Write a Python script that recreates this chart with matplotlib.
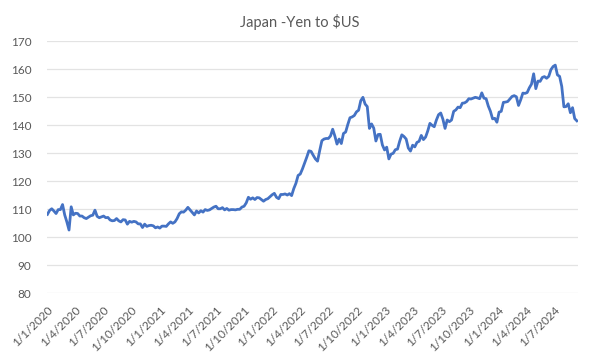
"""
Japan - Yen to $US (weekly close, Jan 2020 - Sep 2024), Excel-style line chart.
"""
import matplotlib

matplotlib.use("Agg")
import matplotlib.pyplot as plt
import pandas as pd

plt.rcParams["font.family"] = ["Lato", "DejaVu Sans"]

TITLE = "Japan -Yen to $US"

# weekly (Friday) closes
START = "2020-01-03"
END = "2024-09-13"

yen_2020 = [108.1, 109.5, 110.1, 109.3, 108.4,
            109.8, 109.8, 111.6, 107.9,
            105.4, 102.5, 110.8, 107.9,
            108.5, 108.4, 107.5, 107.5,
            106.9, 106.6, 107.1, 107.6, 107.8,
            109.6, 107.4, 106.9, 107.2,
            107.5, 106.9, 107.0, 106.1, 105.8,
            105.9, 106.6, 105.8, 105.4,
            106.2, 106.1, 104.6, 105.6,
            105.3, 105.6, 105.4, 104.7, 104.7,
            103.4, 104.6, 103.8, 104.1,
            104.2, 104.0, 103.3, 103.6]
yen_2021 = [103.2, 103.9, 103.9, 103.8, 104.7,
            105.4, 104.9, 105.4, 106.6,
            108.3, 109.0, 108.9, 109.6,
            110.6, 109.7, 108.8, 107.9, 109.3,
            108.6, 109.4, 108.9, 109.8,
            109.5, 109.7, 110.2, 110.7,
            111.0, 110.1, 110.1, 110.5, 109.7,
            110.2, 109.6, 109.8, 109.8,
            109.7, 109.9, 109.9, 110.7,
            111.0, 112.2, 114.2, 113.5, 114.0,
            113.4, 114.1, 114.0, 113.4,
            112.8, 113.4, 113.7, 114.4, 115.1]
yen_2022 = [115.6, 114.2, 113.7, 115.2,
            115.2, 115.4, 115.0, 115.5,
            114.8, 117.3, 119.2, 122.0,
            122.5, 124.3, 126.4, 128.5, 130.8,
            130.6, 129.2, 127.9, 127.1,
            130.9, 134.4, 135.0, 135.2,
            135.2, 136.1, 138.5, 136.1, 133.2,
            135.0, 133.4, 137.0, 137.5,
            140.2, 142.6, 142.9, 143.4, 144.7,
            145.3, 148.7, 149.9, 147.5,
            146.6, 138.8, 140.4, 138.9,
            134.3, 136.6, 136.7, 132.9, 131.1]
yen_2023 = [132.1, 127.9, 129.6, 129.9,
            131.2, 131.4, 134.2, 136.5,
            135.9, 135.0, 131.8, 130.7, 132.8,
            132.2, 133.8, 134.2, 136.3,
            134.8, 135.7, 137.9, 140.6,
            139.9, 139.4, 141.8, 143.7, 144.3,
            142.1, 138.8, 141.8, 141.2,
            141.8, 144.9, 145.4, 146.4,
            146.2, 147.8, 147.9, 148.4, 149.4,
            149.3, 149.6, 149.9, 149.7,
            149.4, 151.5, 149.6, 149.4,
            146.8, 144.9, 142.2, 142.4, 141.0]
yen_2024 = [144.6, 144.9, 148.1, 148.2,
            148.4, 149.3, 150.2, 150.5,
            150.1, 147.0, 149.0, 151.4, 151.3,
            151.6, 153.3, 154.6, 158.3,
            153.0, 155.7, 155.6, 157.0, 157.3,
            156.7, 157.4, 159.8, 160.9,
            161.4, 157.9, 157.4, 153.8,
            146.5, 146.6, 147.6, 144.4, 146.2,
            142.3, 141.5]

dates = pd.date_range(START, END, freq="W-FRI")
yen = yen_2020 + yen_2021 + yen_2022 + yen_2023 + yen_2024
assert len(dates) == len(yen)

tick_dates = pd.date_range("2020-01-01", "2024-07-01", freq="QS")
tick_labels = [f"{d.day}/{d.month}/{d.year}" for d in tick_dates]

fig = plt.figure(figsize=(6, 3.6), dpi=100)
ax = fig.add_axes([0.078, 0.186, 0.885, 0.700])

ax.plot(dates, yen, color="#4472C4", linewidth=2.0, solid_joinstyle="round")

ax.set_ylim(80, 170)
ax.set_yticks(range(80, 171, 10))
ax.set_xlim(pd.Timestamp("2020-01-01"), pd.Timestamp("2024-09-16"))
ax.set_xticks(tick_dates)
ax.set_xticklabels(tick_labels, rotation=45, ha="right", va="top",
                   rotation_mode="anchor")

ax.grid(axis="y", color="#e3e3e3", linewidth=0.9)
ax.set_axisbelow(True)
for s in ax.spines.values():
    s.set_visible(False)
ax.tick_params(axis="both", length=0, labelsize=8.5, labelcolor="#595959")
ax.tick_params(axis="y", pad=11)
ax.tick_params(axis="x", pad=8)

fig.text(0.5, 0.94, TITLE, ha="center", va="center", fontsize=10.5,
         color="#595959")

fig.savefig("out.png", dpi=100)
